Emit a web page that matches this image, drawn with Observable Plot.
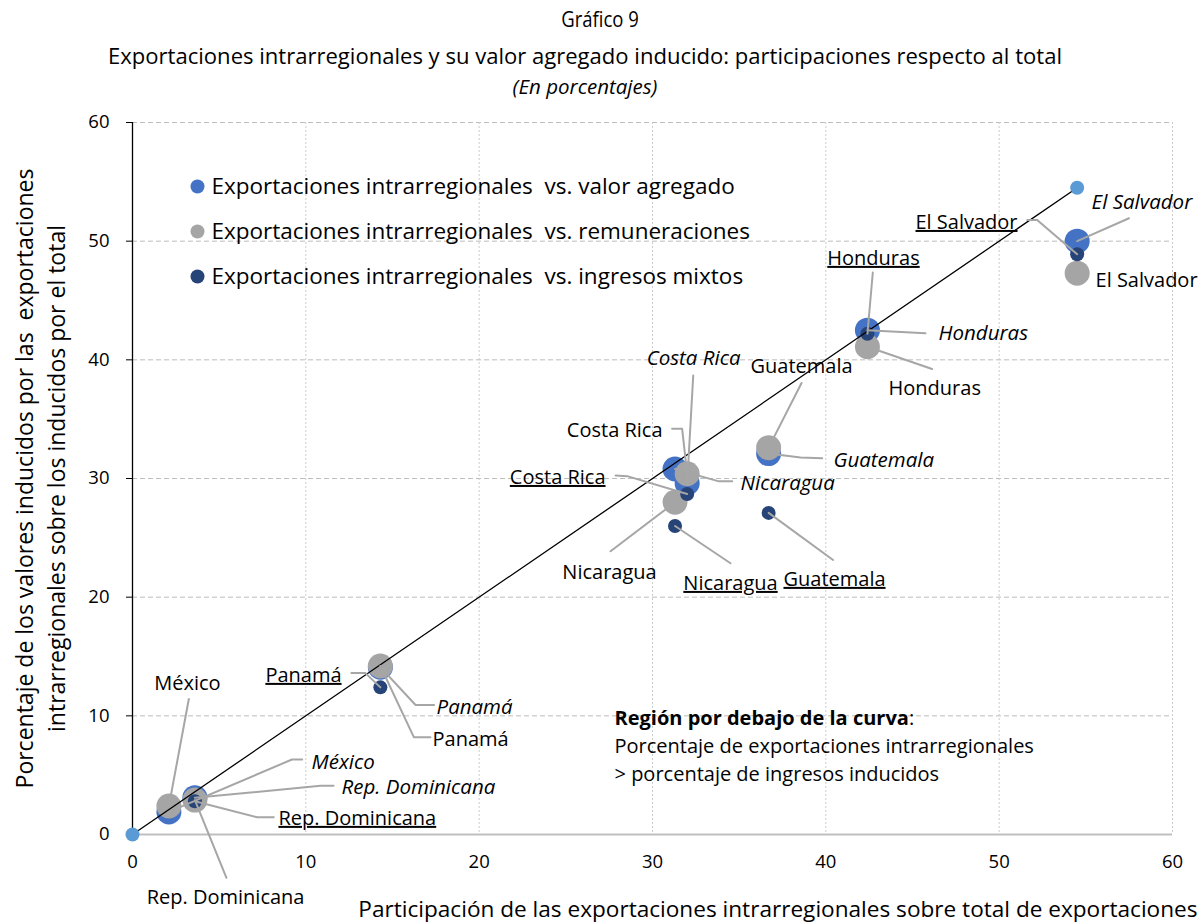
<!DOCTYPE html>
<html><head><meta charset="utf-8">
<script src="https://cdn.jsdelivr.net/npm/d3@7"></script>
<script src="https://cdn.jsdelivr.net/npm/@observablehq/plot@0.6"></script>
<style>
body{margin:0;background:#fff;font-family:"Open Sans",sans-serif;}
#wrap{width:1201px;height:924px;position:relative;overflow:hidden;}
.t{position:absolute;white-space:nowrap;color:#000;line-height:1.35;}
</style></head><body><div id="wrap">
<div class="t" style="left:600px;top:4px;font-size:22px;transform:translateX(-50%) scaleX(0.84)">Gráfico 9</div>
<div class="t" style="left:585px;top:42px;font-size:21px;transform:translateX(-50%) scaleX(1.05)">Exportaciones intrarregionales y su valor agregado inducido: participaciones respecto al total</div>
<div class="t" style="left:585px;top:73px;font-size:20.5px;font-style:italic;transform:translateX(-50%)">(En porcentajes)</div>
<div id="chart" style="position:absolute;top:100px;left:0"></div>
</div>
<script>
// ---- data ----
const countries      = ["El Salvador","Honduras","Guatemala","Costa Rica","Nicaragua","Panamá","México","Rep. Dominicana"];
const exportShare    = [54.5, 42.4, 36.7, 32.0, 31.3, 14.3, 2.1, 3.6];
const valorAgregado  = [50.0, 42.5, 32.1, 29.6, 30.8, 14.1, 1.9, 3.1];
const remuneraciones = [47.3, 41.1, 32.6, 30.4, 28.0, 14.2, 2.4, 2.9];
const ingresosMixtos = [48.9, 42.2, 27.1, 28.7, 26.0, 12.4, null, 2.8];
const diagonalX = [0, 54.5];
const diagonalY = [0, 54.5];
const ticks = [0, 10, 20, 30, 40, 50, 60];
const seriesNames = [
  "Exportaciones intrarregionales\u00a0\u00a0vs. valor agregado",
  "Exportaciones intrarregionales\u00a0\u00a0vs. remuneraciones",
  "Exportaciones intrarregionales\u00a0\u00a0vs. ingresos mixtos"
];
const xLabel = "Participación de las exportaciones intrarregionales sobre total de exportaciones";
const yLabel = "Porcentaje de los valores inducidos por las\u00a0\u00a0exportaciones\nintrarregionales sobre los inducidos por el total";
const noteText = "Región por debajo de la curva:\nPorcentaje de exportaciones intrarregionales\n> porcentaje de ingresos inducidos";

// label annotations: series key, label position (data units), anchor, leader path from label toward point
const labels = [
  {c:"El Salvador", s:"va",  lx:55.33, ly:53.26, a:"start",  path:[[57.49,51.93]]},
  {c:"El Salvador", s:"im",  lx:51.06, ly:51.57, a:"end",    path:[[51.62,51.79],[52.19,51.79]]},
  {c:"El Salvador", s:"rem", lx:55.56, ly:46.68, a:"start",  path:null},
  {c:"Honduras",    s:"im",  lx:42.75, ly:48.54, a:"middle", path:[[42.71,47.36]]},
  {c:"Honduras",    s:"va",  lx:46.50, ly:42.22, a:"start",  path:[[45.75,42.24]]},
  {c:"Honduras",    s:"rem", lx:43.62, ly:37.58, a:"start",  path:[[46.13,39.23]]},
  {c:"Costa Rica",  s:"va",  lx:32.37, ly:40.11, a:"middle", path:[[32.35,38.68]]},
  {c:"Costa Rica",  s:"rem", lx:30.58, ly:34.04, a:"end",    path:[[31.13,34.19],[31.71,34.19]]},
  {c:"Costa Rica",  s:"im",  lx:27.29, ly:30.08, a:"end",    path:[[27.87,30.25],[28.54,30.20]]},
  {c:"Nicaragua",   s:"va",  lx:35.08, ly:29.58, a:"start",  path:[[34.60,29.76],[33.83,29.76]]},
  {c:"Nicaragua",   s:"rem", lx:27.52, ly:22.08, a:"middle", path:[[27.58,23.87]]},
  {c:"Nicaragua",   s:"im",  lx:34.50, ly:21.15, a:"middle", path:[[34.50,22.86]]},
  {c:"Guatemala",   s:"rem", lx:38.60, ly:39.44, a:"middle", path:[[38.60,38.05]]},
  {c:"Guatemala",   s:"va",  lx:40.44, ly:31.52, a:"start",  path:[[39.79,31.70],[38.54,31.77]]},
  {c:"Guatemala",   s:"im",  lx:40.50, ly:21.49, a:"middle", path:[[40.42,23.13]]},
  {c:"Panamá",      s:"im",  lx:12.06, ly:13.40, a:"end",    path:[[12.63,13.60],[13.44,13.60]]},
  {c:"Panamá",      s:"va",  lx:17.54, ly:10.70, a:"start",  path:[[17.40,10.91],[16.33,10.91]]},
  {c:"Panamá",      s:"rem", lx:17.31, ly:8.00,  a:"start",  path:[[17.19,8.20],[16.23,8.20]]},
  {c:"México",      s:"rem", lx:3.17,  ly:12.72, a:"middle", path:[[3.25,11.42]]},
  {c:"México",      s:"va",  lx:10.33, ly:6.07,  a:"start",  path:[[9.79,6.32],[9.20,6.32]]},
  {c:"Rep. Dominicana", s:"va",  lx:12.06, ly:3.96,  a:"start",  path:[[11.60,4.10],[10.85,4.10]]},
  {c:"Rep. Dominicana", s:"im",  lx:8.42,  ly:1.35,  a:"start",  path:[[8.15,1.45],[7.19,1.45]]},
  {c:"Rep. Dominicana", s:"rem", lx:5.37,  ly:-5.30, a:"middle", path:[[5.42,-3.65]]}
];

// ---- derived tables ----
const colors = {va:"#4472C4", rem:"#A5A5A5", im:"#264478"};
const seriesVals = {va:valorAgregado, rem:remuneraciones, im:ingresosMixtos};
const pts = k => countries.map((c,i)=>({c, x:exportShare[i], y:seriesVals[k][i]})).filter(d=>d.y!=null);
const ptOf = (c,k) => { const i = countries.indexOf(c); return [exportShare[i], seriesVals[k][i]]; };
const leaders = [];
labels.forEach((l,j)=>{ if(!l.path) return; l.path.concat([ptOf(l.c,l.s)]).forEach(p=>leaders.push({id:j, x:p[0], y:p[1]})); });
const diag = diagonalX.map((x,i)=>({x, y:diagonalY[i]}));

// marker fills used to find marks after rendering (visually black)
const UNDERLINE_FILL = "#010101", NOTE_FILL = "#020202";
const labelMarks = [];
for (const s of ["va","rem","im"]) for (const a of ["start","middle","end"]) {
  const d = labels.filter(l=>l.s===s && l.a===a);
  if (!d.length) continue;
  labelMarks.push(Plot.text(d, {x:"lx", y:"ly", text:"c", textAnchor:a, lineAnchor:"middle",
    fontSize: s==="va" ? 20.5 : 20, fill: s==="im" ? UNDERLINE_FILL : "#000",
    fontStyle: s==="va" ? "italic" : "normal"}));
}
const legendMarks = [];
["va","rem","im"].forEach((k,i)=>{
  legendMarks.push(Plot.dot([k], {frameAnchor:"top-left", dx:65, dy:64+i*45, r:7, fill:colors[k], stroke:null}));
  legendMarks.push(Plot.text([seriesNames[i]], {frameAnchor:"top-left", dx:79, dy:64+i*45, text:d=>d, textAnchor:"start", lineAnchor:"middle", fontSize:22.5, fill:"#000"}));
});

const chart = Plot.plot({
  width:1201, height:824,
  marginLeft:132, marginRight:29, marginTop:22, marginBottom:90,
  x:{domain:[0,60]}, y:{domain:[0,60]},
  style:{fontFamily:"'Open Sans', sans-serif", fontSize:"18px", color:"#000", background:"#fff", overflow:"visible"},
  marks:[
    Plot.gridY(ticks.filter(t=>t>0), {stroke:"#BDBDBD", strokeOpacity:1, strokeDasharray:"5,3"}),
    Plot.gridX(ticks.filter(t=>t>0), {stroke:"#CBCBCB", strokeOpacity:1, strokeDasharray:"2,2"}),
    Plot.ruleY([0], {stroke:"#BFBFBF", strokeWidth:2}),
    Plot.ruleX([0], {stroke:"#000", strokeWidth:1.3}),
    Plot.axisY(ticks, {tickSize:6, tickPadding:17, stroke:"#000", fontSize:18.5, label:null}),
    Plot.axisX(ticks, {tickSize:0, tickPadding:20, fontSize:18.5, label:null}),
    Plot.dot(pts("va"),  {x:"x", y:"y", r:12.5, fill:colors.va,  stroke:null}),
    Plot.dot(pts("rem"), {x:"x", y:"y", r:12.5, fill:colors.rem, stroke:null}),
    Plot.dot(pts("im"),  {x:"x", y:"y", r:7,    fill:colors.im,  stroke:null}),
    Plot.line(diag, {x:"x", y:"y", stroke:"#000", strokeWidth:1.3}),
    Plot.dot(diag, {x:"x", y:"y", r:7, fill:"#5B9BD5", stroke:null}),
    Plot.line(leaders, {x:"x", y:"y", z:"id", stroke:"#A6A6A6", strokeWidth:2}),
    ...labelMarks,
    ...legendMarks,
    Plot.text([noteText], {frameAnchor:"top-left", dx:482, dy:583, text:d=>d, textAnchor:"start", lineAnchor:"top", lineHeight:1.4, fontSize:20, fill:NOTE_FILL}),
    Plot.text([xLabel], {frameAnchor:"bottom-right", dx:25, dy:75, text:d=>d, textAnchor:"end", lineAnchor:"middle", fontSize:22.6, fill:"#000"}),
    Plot.text([yLabel], {frameAnchor:"left", dx:-94, rotate:-90, text:d=>d, textAnchor:"middle", lineAnchor:"middle", lineHeight:1.43, fontSize:23, fill:"#000"})
  ]
});
document.getElementById("chart").appendChild(chart);
const svg = d3.select(chart);
svg.selectAll("g").filter(function(){ const f=(this.getAttribute("fill")||"").toLowerCase(); return f===UNDERLINE_FILL; })
  .selectAll("text").attr("text-decoration","underline").style("text-decoration","underline");
svg.selectAll("g").filter(function(){ const f=(this.getAttribute("fill")||"").toLowerCase(); return f===NOTE_FILL; })
  .selectAll("tspan").each(function(){
    if (this.textContent === "Región por debajo de la curva:") {
      d3.select(this).html('<tspan font-weight="bold">Región por debajo de la curva</tspan>:');
    }
  });
</script></body></html>
